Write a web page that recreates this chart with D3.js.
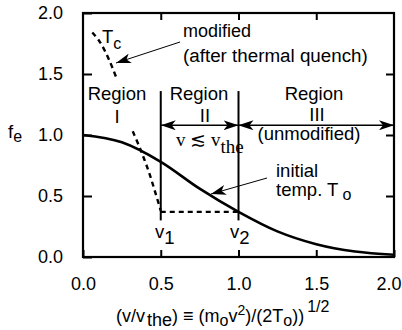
<!DOCTYPE html>
<html>
<head>
<meta charset="utf-8">
<script src="https://cdn.jsdelivr.net/npm/d3@7"></script>
<style>
  body { margin: 0; background: #fff; }
  svg { display: block; font-family: "Liberation Sans", Arial, sans-serif; }
  .serif { font-family: "Liberation Serif", "Times New Roman", serif; }
</style>
</head>
<body>
<script>
const width = 402;
const height = 330;
const margin = {top: 13, right: 8, bottom: 73, left: 83};

// tick values
const xTicks = [0, 0.5, 1.0, 1.5, 2.0];
const yTicks = [0, 0.5, 1.0, 1.5, 2.0];

// initial distribution (temp T_o)
const initialX = [0, 0.25, 0.5, 0.75, 1.0, 1.25, 1.5, 1.75, 2.0];
const initialF = [1.0, 0.94, 0.78, 0.56, 0.37, 0.21, 0.105, 0.045, 0.018];

// modified distribution after quench (dashed), two pieces
const quenchTopX = [0.06, 0.11, 0.17, 0.22];
const quenchTopF = [1.84, 1.76, 1.61, 1.45];
const quenchLowX = [0.32, 0.37, 0.42, 0.46, 0.5];
const quenchLowF = [1.03, 0.88, 0.71, 0.55, 0.38];

// plateau between v1 and v2
const plateauX = [0.5, 1.0];
const plateauF = [0.37, 0.37];

// region boundaries
const v1 = 0.5, v2 = 1.0;
const boundF = [0.3, 1.36];
const arrowF = 1.08;

const svg = d3.select("body").append("svg")
  .attr("width", width)
  .attr("height", height);

const defs = svg.append("defs");
defs.append("marker")
  .attr("id", "head")
  .attr("viewBox", "0 0 15 10")
  .attr("refX", 15).attr("refY", 5)
  .attr("markerWidth", 15).attr("markerHeight", 10)
  .attr("markerUnits", "userSpaceOnUse")
  .attr("orient", "auto-start-reverse")
  .append("path")
  .attr("d", "M0,0 L15,5 L0,10 L4,5 Z")
  .attr("fill", "#000");

const x = d3.scaleLinear().domain([0, 2]).range([margin.left, width - margin.right]);
const y = d3.scaleLinear().domain([0, 2]).range([height - margin.bottom, margin.top]);

const g = svg.append("g");

// inward ticks on all four sides
const fmt = d3.format(".1f");
svg.append("g")
  .attr("transform", `translate(0,${y(0)})`)
  .call(d3.axisBottom(x).tickValues(xTicks).tickFormat(fmt).tickSizeInner(-7).tickSizeOuter(0).tickPadding(20))
  .call(a => a.select(".domain").remove())
  .call(a => a.selectAll("text").attr("font-size", 18).attr("fill", "#000").attr("font-family", "Liberation Sans, Arial, sans-serif"))
  .call(a => a.selectAll("text").filter(d => d === 2).attr("text-anchor", "end").attr("dx", 7));
svg.append("g")
  .attr("transform", `translate(${x(0)},0)`)
  .call(d3.axisLeft(y).tickValues(yTicks).tickFormat(fmt).tickSizeInner(-9).tickSizeOuter(0).tickPadding(20))
  .call(a => a.select(".domain").remove())
  .call(a => a.selectAll("text").attr("font-size", 18).attr("fill", "#000").attr("font-family", "Liberation Sans, Arial, sans-serif"));
svg.append("g")
  .attr("transform", `translate(0,${y(2)})`)
  .call(d3.axisTop(x).tickValues(xTicks.slice(1, -1)).tickFormat("").tickSizeInner(-7).tickSizeOuter(0))
  .call(a => a.select(".domain").remove());
svg.append("g")
  .attr("transform", `translate(${x(2)},0)`)
  .call(d3.axisRight(y).tickValues(yTicks.slice(1, -1)).tickFormat("").tickSizeInner(-8).tickSizeOuter(0))
  .call(a => a.select(".domain").remove());
svg.selectAll(".tick line").attr("stroke", "#000").attr("stroke-width", 2);

// frame
svg.append("rect")
  .attr("x", x(0)).attr("y", y(2))
  .attr("width", x(2) - x(0)).attr("height", y(0) - y(2))
  .attr("fill", "none").attr("stroke", "#000").attr("stroke-width", 2.2);

const line = d3.line().x(d => x(d[0])).y(d => y(d[1]));
const smooth = d3.line().x(d => x(d[0])).y(d => y(d[1])).curve(d3.curveMonotoneX);

// initial Maxwellian
g.append("path")
  .attr("d", smooth(d3.zip(initialX, initialF)))
  .attr("fill", "none").attr("stroke", "#000").attr("stroke-width", 2.6);

// modified (dashed)
[[quenchTopX, quenchTopF], [quenchLowX, quenchLowF], [plateauX, plateauF]].forEach(([xs, fs]) => {
  g.append("path")
    .attr("d", d3.line().x(d => x(d[0])).y(d => y(d[1])).curve(d3.curveCatmullRom)(d3.zip(xs, fs)))
    .attr("fill", "none").attr("stroke", "#000").attr("stroke-width", 2.4)
    .attr("stroke-dasharray", "5,4");
});

// region boundaries
[v1, v2].forEach(v => {
  g.append("path")
    .attr("d", line(boundF.map(f => [v, f])))
    .attr("stroke", "#000").attr("stroke-width", 2);
});

// double arrows for regions II and III
[[v1, v2], [v2, 2]].forEach(([a, b]) => {
  g.append("path")
    .attr("d", line([[a, arrowF], [b, arrowF]]))
    .attr("stroke", "#000").attr("stroke-width", 1.5)
    .attr("marker-start", "url(#head)").attr("marker-end", "url(#head)");
});

// pointer arrows
g.append("line")
  .attr("x1", 180).attr("y1", 42).attr("x2", 116).attr("y2", 63)
  .attr("stroke", "#000").attr("stroke-width", 1).attr("marker-end", "url(#head)");
g.append("line")
  .attr("x1", 267).attr("y1", 178).attr("x2", 211).attr("y2", 194)
  .attr("stroke", "#000").attr("stroke-width", 1).attr("marker-end", "url(#head)");

// text annotations
const txt = (px, py, s, anchor = "start", size = 18.5) =>
  svg.append("text").attr("x", px).attr("y", py).attr("text-anchor", anchor)
    .attr("font-size", size).attr("fill", "#000").text(s);

txt(117, 100, "Region", "middle");
txt(117, 123, "I", "middle");
txt(199, 100, "Region", "middle");
txt(205, 122, "II", "middle");
txt(314, 100, "Region", "middle");
txt(317, 121, "III", "middle");
txt(309, 140, "(unmodified)", "middle");
txt(183, 37, "modified", "start", 18);
txt(183, 62, "(after thermal quench)", "start", 18.8);
txt(276, 177, "initial");

// T_c
const tc = txt(102, 43, "T");
tc.append("tspan").attr("dy", 6).attr("font-size", 16).text("c");

// temp. T_o
const to = txt(276, 196, "temp. T");
to.append("tspan").attr("dx", 4).attr("dy", 4).attr("font-size", 16).text("o");

// v ≲ v_the (serif)
const vv = svg.append("text").attr("class", "serif").attr("x", 176).attr("y", 146)
  .attr("font-size", 19).attr("fill", "#000");
vv.append("tspan").text("v ≲ v");
vv.append("tspan").attr("dy", 7).text("the");

// v1, v2
const v1t = txt(155, 238, "v");
v1t.append("tspan").attr("dy", 6).text("1");
const v2t = txt(230, 238, "v");
v2t.append("tspan").attr("dy", 6).text("2");

// y label
const fl = txt(8, 138, "f");
fl.append("tspan").attr("dy", 4).attr("font-size", 16).text("e");

// x label
const xl = svg.append("text").attr("x", 116).attr("y", 322).attr("font-size", 18).attr("fill", "#000");
xl.append("tspan").text("(v/v");
xl.append("tspan").attr("dy", 4).attr("dx", 2).text("the");
xl.append("tspan").attr("dy", -4).text(") ≡ (m");
xl.append("tspan").attr("dy", 4).attr("font-size", 16).text("o");
xl.append("tspan").attr("dy", -4).text("v");
xl.append("tspan").attr("dy", -7).attr("font-size", 14).text("2");
xl.append("tspan").attr("dy", 7).text(")/(2T");
xl.append("tspan").attr("dy", 4).attr("font-size", 16).text("o");
xl.append("tspan").attr("dy", -4).text("))");
xl.append("tspan").attr("dy", -10).attr("dx", 3).attr("font-size", 16).text("1/2");
</script>
</body>
</html>
